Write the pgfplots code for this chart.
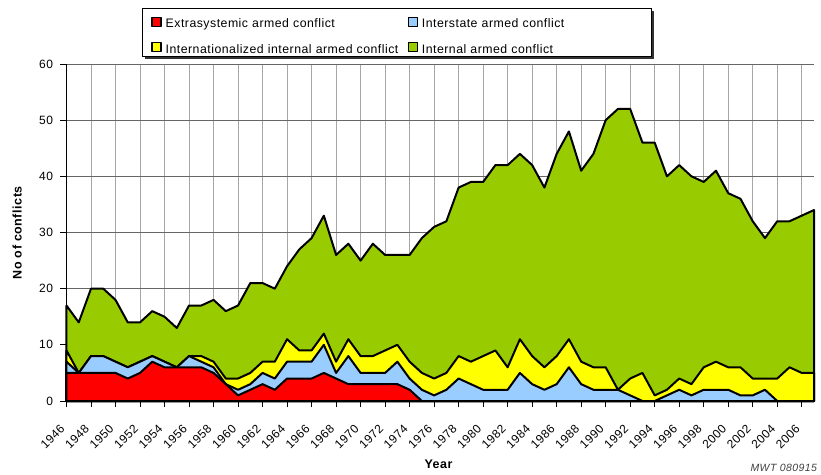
\documentclass[border=0pt]{standalone}
\usepackage{fontspec}
\setmainfont{Liberation Sans}[LetterSpace=4]
\usepackage{pgfplots}
\pgfplotsset{compat=1.18}
\usepackage{pgfplotstable}
\usetikzlibrary{shadows}
\definecolor{cred}{RGB}{255,0,0}
\definecolor{cblue}{RGB}{153,204,255}
\definecolor{cyel}{RGB}{255,255,0}
\definecolor{cgreen}{RGB}{153,204,0}

% cumulative levels: R = extrasystemic, B = +interstate, Y = +internationalized internal, T = +internal
\pgfplotstableread{
year R B Y T
1946 5 7 9 17
1947 5 5 5 14
1948 5 8 8 20
1949 5 8 8 20
1950 5 7 7 18
1951 4 6 6 14
1952 5 7 7 14
1953 7 8 8 16
1954 6 7 7 15
1955 6 6 6 13
1956 6 8 8 17
1957 6 7 8 17
1958 5 6 7 18
1959 3 3 4 16
1960 1 2 4 17
1961 2 3 5 21
1962 3 5 7 21
1963 2 4 7 20
1964 4 7 11 24
1965 4 7 9 27
1966 4 7 9 29
1967 5 10 12 33
1968 4 5 7 26
1969 3 8 11 28
1970 3 5 8 25
1971 3 5 8 28
1972 3 5 9 26
1973 3 7 10 26
1974 2 4 7 26
1975 0 2 5 29
1976 0 1 4 31
1977 0 2 5 32
1978 0 4 8 38
1979 0 3 7 39
1980 0 2 8 39
1981 0 2 9 42
1982 0 2 6 42
1983 0 5 11 44
1984 0 3 8 42
1985 0 2 6 38
1986 0 3 8 44
1987 0 6 11 48
1988 0 3 7 41
1989 0 2 6 44
1990 0 2 6 50
1991 0 2 2 52
1992 0 1 4 52
1993 0 0 5 46
1994 0 0 1 46
1995 0 1 2 40
1996 0 2 4 42
1997 0 1 3 40
1998 0 2 6 39
1999 0 2 7 41
2000 0 2 6 37
2001 0 1 6 36
2002 0 1 4 32
2003 0 2 4 29
2004 0 0 4 32
2005 0 0 6 32
2006 0 0 5 33
2007 0 0 5 34
}\data

\begin{document}
\begin{tikzpicture}[x=1pt,y=1pt]
\path[use as bounding box] (-66.5,-73) rectangle (754.5,401);
% legend frame
\draw[line width=1pt, fill=white,
  drop shadow={shadow xshift=2.5pt, shadow yshift=-2.5pt, fill=black!80, opacity=1}]
  (76.2,344.3) rectangle (585.2,392.7);
\begin{axis}[
  at={(0,0)}, anchor=south west,
  scale only axis, width=747.5pt, height=337pt,
  xmin=1946, xmax=2007, ymin=0, ymax=60,
  clip=false,
  axis x line*=bottom, axis y line*=left,
  axis line style={black, line width=1.2pt, -},
  xtick={1946,1948,...,2006},
  ytick={0,10,...,60},
  tick align=outside,
  major tick length=6pt,
  tick style={black, line width=1pt},
  xmajorgrids, ymajorgrids,
  major x grid style={black!35, line width=0.8pt},
  major y grid style={black!60, line width=0.8pt},
  /pgf/number format/assume math mode=true,
  /pgf/number format/1000 sep={},
  xticklabel style={shift={(-7pt,-15pt)}, rotate=45, anchor=north east, font=\fontsize{12}{13}\selectfont, inner sep=1pt},
  yticklabel style={font=\fontsize{12}{13}\selectfont, xshift=-4pt},
  xlabel={\textbf{Year}},
  xlabel style={at={(axis description cs:0.498,-0.187)}, anchor=center, font=\fontsize{12.5}{14}\selectfont},
  ylabel={\textbf{No of conflicts}},
  ylabel style={at={(axis description cs:-0.066,0.5)}, anchor=center, font=\fontsize{12.5}{14}\selectfont},
  reverse legend,
  legend columns=2,
  legend cell align=left,
  legend style={at={(axis description cs:0.1137,1.1398)}, anchor=north west,
    draw=none, fill=none, inner sep=0pt, outer sep=0pt,
    font=\fontsize{12.3}{13}\selectfont,
    row sep=11.5pt,
    /tikz/column sep=0pt,
    /tikz/every odd column/.append style={column sep=4pt},
    nodes={text width=242pt, text height=9.5pt, text depth=3pt, inner sep=0pt}},
  legend image code/.code={\draw[#1, line width=1.2pt] (0pt,-2pt) rectangle (9pt,7pt);},
]
\addplot[fill=cgreen, draw=black, line width=2pt, line join=round] table[x=year,y=T]{\data} \closedcycle;
\addlegendentry{Internal armed conflict}
\addplot[fill=cyel, draw=black, line width=2pt, line join=round] table[x=year,y=Y]{\data} \closedcycle;
\addlegendentry{Internationalized internal armed conflict}
\addplot[fill=cblue, draw=black, line width=2pt, line join=round] table[x=year,y=B]{\data} \closedcycle;
\addlegendentry{Interstate armed conflict}
\addplot[fill=cred, draw=black, line width=2pt, line join=round] table[x=year,y=R]{\data} \closedcycle;
\addlegendentry{Extrasystemic armed conflict}
\end{axis}
\node[anchor=east, font=\itshape\fontsize{10.5}{12}\selectfont, text=black!75] at (754,-67) {MWT 080915};
\end{tikzpicture}
\end{document}
